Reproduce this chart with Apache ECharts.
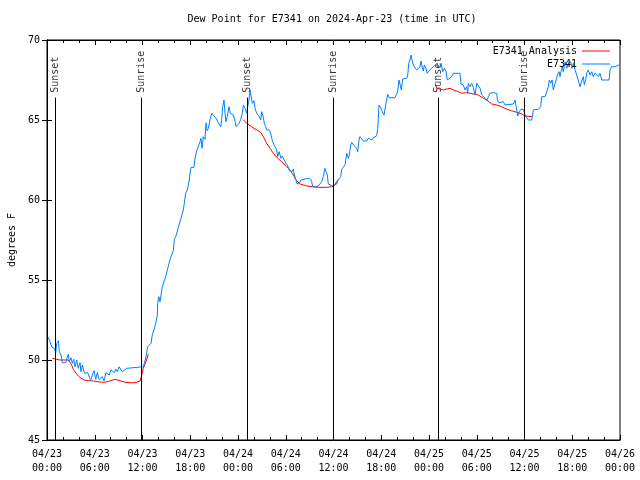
<!DOCTYPE html>
<html><head><meta charset="utf-8">
<script src="https://cdn.jsdelivr.net/npm/echarts@6/dist/echarts.min.js"></script>
<style>html,body{margin:0;padding:0;background:#fff}#c{width:640px;height:480px}</style>
</head><body><div id="c"></div>
<script>
// hours since 2024-04-23 00:00 UTC
const blueHours = [0.16,0.38,0.59,0.79,1.01,1.09,1.22,1.42,1.55,1.76,1.92,2.35,2.51,2.68,2.80,3.02,3.18,3.36,3.52,3.73,3.93,4.15,4.27,4.44,4.69,4.90,5.11,5.32,5.49,5.69,5.91,6.12,6.32,6.53,6.75,6.95,7.16,7.41,7.63,7.83,8.04,8.26,8.46,8.63,8.83,9.05,9.30,9.46,9.68,10.02,10.22,12.10,12.23,12.44,12.65,12.86,13.07,13.23,13.45,13.66,13.86,13.91,14.04,14.20,14.33,14.49,14.70,14.92,15.12,15.33,15.54,15.75,15.87,16.00,16.21,16.42,16.59,16.80,17.00,17.13,17.25,17.43,17.63,17.76,17.88,17.97,18.10,18.47,18.60,18.81,19.01,19.23,19.35,19.48,19.64,19.85,19.98,20.14,20.27,20.39,20.57,20.73,20.99,21.24,21.45,21.65,21.83,21.95,22.08,22.24,22.37,22.49,22.66,22.87,23.03,23.21,23.41,23.59,23.75,23.91,24.13,24.34,24.54,24.67,24.79,24.97,25.10,25.22,25.38,25.51,25.63,25.80,26.01,26.14,26.35,26.55,26.68,26.85,26.98,27.18,27.31,27.48,27.61,27.94,28.11,28.24,28.36,28.53,28.65,28.86,28.99,29.15,29.28,29.40,29.57,29.78,29.91,30.12,30.25,30.41,30.62,30.75,30.95,31.08,31.29,31.38,31.67,31.92,32.01,32.84,33.14,33.26,33.39,33.55,33.68,33.89,34.09,34.31,34.52,34.72,34.93,35.06,35.22,35.35,35.56,35.90,36.10,36.40,36.53,36.73,36.91,37.03,37.23,37.45,37.66,37.86,37.99,38.16,38.29,38.49,38.70,38.92,39.04,39.21,39.33,39.55,39.75,40.17,40.38,40.59,40.80,41.00,41.43,41.56,41.72,41.93,42.13,42.35,42.56,42.69,42.81,43.01,43.73,43.94,44.07,44.23,44.36,44.52,44.70,44.86,45.20,45.33,45.45,45.62,45.74,45.87,46.03,46.24,46.46,46.66,46.87,47.00,47.16,47.29,47.41,47.63,47.79,48.00,48.22,48.47,48.67,48.88,49.10,49.30,49.51,49.72,49.92,50.14,50.30,50.55,50.85,51.06,51.90,52.02,52.31,52.53,52.74,52.86,52.94,53.15,53.37,53.57,53.78,54.00,54.20,54.41,54.63,54.83,55.04,55.26,55.46,55.67,56.01,56.51,56.59,56.77,56.93,57.34,57.55,58.60,58.81,59.02,59.15,59.35,59.56,59.85,60.07,60.28,60.48,60.91,61.11,61.74,62.04,62.16,62.37,62.58,62.79,62.99,63.12,63.29,63.46,63.62,63.84,64.05,64.12,64.34,64.46,64.59,64.75,64.88,65.09,65.31,65.51,65.81,65.97,66.14,66.35,66.56,66.76,66.98,67.10,67.23,67.39,67.52,67.69,67.82,68.02,68.23,68.45,68.65,68.86,69.08,69.28,69.49,69.71,70.62,70.75,70.96,71.16,71.38,71.59,71.88];
const blueValues = [51.42,51.14,50.83,50.73,50.67,50.44,51.04,51.21,50.52,50.31,49.83,49.83,50.12,50.36,49.89,50.14,49.79,50.04,49.58,50.00,49.48,49.83,49.27,49.69,49.17,49.06,49.21,48.92,48.71,49.06,49.33,48.79,49.21,48.79,48.69,48.96,48.69,49.21,49.27,49.06,49.38,49.48,49.21,49.42,49.27,49.58,49.48,49.27,49.27,49.48,49.58,49.58,49.79,50.21,50.83,50.94,51.04,51.56,51.88,52.29,52.81,53.54,53.96,53.64,54.06,54.58,54.89,55.21,55.63,56.04,56.42,56.50,56.83,57.54,57.75,58.13,58.44,58.79,58.71,59.38,59.79,60.42,60.63,60.94,61.25,61.67,62.04,62.04,62.61,63.08,63.02,63.64,63.86,63.23,63.96,63.79,64.83,64.33,64.48,64.79,65.21,65.42,65.25,65.11,64.89,64.79,64.58,65.00,65.83,66.25,65.42,64.89,65.25,65.83,65.42,65.52,65.31,65.00,64.58,64.48,64.79,65.04,65.42,65.94,66.04,65.63,65.42,65.83,66.25,66.88,66.98,66.04,66.21,65.73,65.42,65.52,65.21,65.00,65.52,65.17,64.79,64.58,64.38,64.38,64.17,63.86,63.64,63.44,63.33,63.13,62.71,63.02,62.81,62.61,62.75,62.71,62.39,62.29,62.13,61.88,61.92,61.77,61.92,61.56,61.25,61.04,61.00,61.25,61.36,61.36,61.29,61.14,60.83,60.88,60.79,60.67,60.88,60.94,61.14,61.46,61.98,61.98,61.56,61.00,60.88,60.88,60.94,61.00,61.25,61.36,61.46,61.92,61.92,62.19,62.92,62.61,62.81,63.44,63.61,63.44,63.33,63.23,63.02,63.75,63.96,63.96,63.69,63.69,63.86,63.96,63.75,63.89,64.02,64.48,65.94,65.77,65.52,65.31,65.31,66.31,66.61,66.39,66.39,66.61,66.81,67.50,67.23,66.88,67.56,67.61,67.61,67.81,68.54,68.75,69.06,68.75,68.44,68.27,68.13,68.06,68.33,68.69,68.27,68.06,68.44,68.19,67.92,68.06,68.19,68.19,68.39,68.27,68.44,68.27,68.54,68.02,68.23,68.02,67.50,67.61,67.71,67.92,67.92,67.25,67.19,66.88,67.08,66.67,67.29,67.08,67.29,67.04,66.56,67.29,67.29,66.98,66.56,66.46,66.36,66.21,66.46,66.67,66.71,66.67,66.25,66.08,66.14,66.14,65.94,66.00,66.25,65.63,65.25,65.52,65.67,65.67,65.31,65.25,65.00,65.00,65.63,65.67,65.83,66.46,66.56,66.46,66.77,67.08,67.50,67.29,67.50,66.88,67.29,67.61,67.81,68.02,67.71,68.02,68.33,68.02,68.64,68.23,68.54,68.64,68.23,68.54,68.13,67.81,67.71,67.08,67.04,67.50,67.71,67.19,67.54,67.92,68.13,67.81,68.02,67.71,67.92,68.02,67.71,67.92,67.50,67.50,68.13,68.33,68.23,68.33,68.44,68.44];
const redHours = [0.67,1.22,1.63,2.68,2.89,3.10,3.30,3.52,3.73,3.93,4.27,4.69,5.19,5.82,6.45,6.87,7.29,7.92,8.55,9.17,9.80,10.43,11.06,11.69,11.90,12.10,12.44,12.73,
  18.0,
  24.63,25.09,25.72,26.35,26.85,27.18,27.61,28.02,28.44,28.86,29.49,30.12,30.54,30.95,31.29,31.79,32.63,33.46,34.31,35.15,35.78,36.07,36.40,36.69,
  42.0,
  48.76,48.97,49.17,49.80,50.64,51.06,51.68,52.11,52.74,53.57,54.20,54.83,55.26,55.88,56.51,57.14,57.77,58.39,59.02,59.65,60.07,60.91];
const redValues = [50.11,50.04,50.00,50.00,49.89,49.69,49.42,49.27,49.13,49.00,48.86,48.75,48.71,48.69,48.64,48.61,48.61,48.69,48.79,48.71,48.61,48.58,48.58,48.69,49.06,49.48,49.89,50.38,
  null,
  65.04,64.79,64.58,64.38,64.23,63.96,63.54,63.23,62.92,62.67,62.39,62.08,61.88,61.56,61.25,61.00,60.88,60.83,60.79,60.79,60.83,60.88,61.14,61.29,
  null,
  67.29,66.98,66.88,66.88,66.98,66.88,66.77,66.67,66.71,66.63,66.56,66.36,66.25,66.00,65.94,65.83,65.67,65.58,65.48,65.38,65.25,65.21];
const sunHours = [1.04, 11.81, 25.22, 35.98, 49.17, 59.98];
const sunNames = ['Sunset','Sunrise','Sunset','Sunrise','Sunset','Sunrise'];
const titleText = 'Dew Point for E7341 on 2024-Apr-23 (time in UTC)';
const yName = 'degrees F';

const FONT = 'DejaVu Sans Mono';
const pad = n => (n < 10 ? '0' : '') + n;
const fmtX = v => '04/' + (23 + Math.floor(v / 24)) + '\n' + pad(v % 24) + ':00';
const LINE_TOP = 66.4, LABEL_Y = 66.7;

const chart = echarts.init(document.getElementById('c'), null, {renderer: 'canvas'});
const axisLine = {show: true, lineStyle: {color: '#000', width: 1}};
chart.setOption({
  animation: false,
  backgroundColor: '#fff',
  title: {text: titleText, left: 332, top: 14, textAlign: 'center', padding: 0,
    textStyle: {fontFamily: FONT, fontSize: 10, fontWeight: 'normal', color: '#000'}},
  legend: {data: ['E7341 Analysis', 'E7341'], orient: 'vertical', right: 30, top: 45, padding: 0,
    align: 'right', icon: 'rect', itemWidth: 28, itemHeight: 1, itemGap: 1,
    textStyle: {fontFamily: FONT, fontSize: 10, color: '#000', lineHeight: 12}},
  grid: {left: 47, right: 20, top: 40, bottom: 40, show: true, borderColor: '#000', borderWidth: 1,
    containLabel: false, outerBoundsMode: 'none'},
  xAxis: [
    {type: 'value', min: 0, max: 72, interval: 6, position: 'bottom', axisLine,
      axisTick: {inside: true, length: 5, lineStyle: {color: '#000'}},
      minorTick: {show: true, splitNumber: 3, length: 3, lineStyle: {color: '#000'}},
      splitLine: {show: false},
      axisLabel: {formatter: fmtX, fontFamily: FONT, fontSize: 10, color: '#000', lineHeight: 14, margin: 7, showMinLabel: true, showMaxLabel: true}},
    {type: 'value', min: 0, max: 72, interval: 6, position: 'top', axisLine,
      axisTick: {inside: true, length: 5, lineStyle: {color: '#000'}},
      minorTick: {show: true, splitNumber: 3, length: 3, lineStyle: {color: '#000'}},
      splitLine: {show: false}, axisLabel: {show: false}}
  ],
  yAxis: [
    {type: 'value', min: 45, max: 70, interval: 5, position: 'left', axisLine,
      axisTick: {inside: true, length: 5, lineStyle: {color: '#000'}},
      splitLine: {show: false},
      name: yName, nameLocation: 'middle', nameRotate: 90, nameGap: 29,
      nameTextStyle: {fontFamily: FONT, fontSize: 10, color: '#000'},
      axisLabel: {fontFamily: FONT, fontSize: 10, color: '#000', margin: 7}},
    {type: 'value', min: 45, max: 70, interval: 5, position: 'right', axisLine,
      axisTick: {inside: true, length: 5, lineStyle: {color: '#000'}},
      splitLine: {show: false}, axisLabel: {show: false}}
  ],
  series: [
    {name: 'sun', type: 'scatter', symbolSize: 1, itemStyle: {color: 'rgba(0,0,0,0)'}, silent: true,
      data: sunHours.map((t, i) => ({value: [t, LABEL_Y], name: sunNames[i]})),
      label: {show: true, formatter: '{b}', rotate: 90, position: 'inside', align: 'left', verticalAlign: 'middle',
        fontFamily: FONT, fontSize: 10, color: '#000'},
      markLine: {silent: true, symbol: ['none', 'none'], animation: false,
        lineStyle: {color: '#000', width: 1, type: 'solid'}, label: {show: false},
        emphasis: {disabled: true},
        data: sunHours.map(t => [{coord: [t, LINE_TOP]}, {coord: [t, 45]}])}},
    {name: 'E7341 Analysis', type: 'line', symbol: 'none', connectNulls: false,
      lineStyle: {color: '#ff0000', width: 1}, itemStyle: {color: '#ff0000'},
      data: redHours.map((t, i) => [t, redValues[i] === null ? '-' : redValues[i]])},
    {name: 'E7341', type: 'line', symbol: 'none',
      lineStyle: {color: '#0080ff', width: 1}, itemStyle: {color: '#0080ff'},
      data: blueHours.map((t, i) => [t, blueValues[i]])}
  ]
});
</script></body></html>
